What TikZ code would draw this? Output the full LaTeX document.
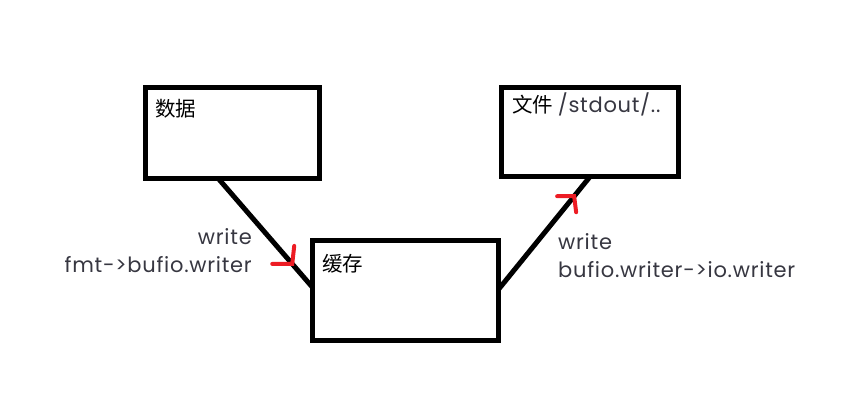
\documentclass[tikz,border=0pt]{standalone}
\usepackage{fontspec}
\setsansfont{Poppins}
\newfontfamily\notefont{Poppins}[LetterSpace=3.5]
\newfontfamily\cjk{Noto Sans CJK SC}
\usetikzlibrary{positioning}
\definecolor{paintred}{RGB}{237,28,36}
\definecolor{inkgray}{RGB}{55,55,65}

\begin{document}
\begin{tikzpicture}[
  x=1pt, y=-1pt,
  box/.style 2 args={draw, line width=5pt, inner sep=0pt, outer sep=0pt,
    minimum width=#1, minimum height=#2},
  boxtext/.style={anchor=base west, inner sep=0pt,
    font=\cjk\fontsize{20.5}{20.5}\selectfont},
  note/.style={inner sep=0pt, text=inkgray,
    font=\notefont\fontsize{21}{28.5}\selectfont},
  link/.style={draw, line width=5pt},
  tick/.style={draw=paintred, line width=4pt, line cap=round}
]
  \useasboundingbox (0,0) rectangle (851,406);

  \node[box={174pt}{90.5pt}] (data) at (232.6,132.8) {};
  \node[box={176.5pt}{89pt}] (file) at (589.75,132.5) {};
  \node[box={186pt}{100pt}] (buf) at (405,290) {};

  \node[boxtext] (datatxt) at (155,117) {数据};
  \node[boxtext] (filetxt) at (512,113)
    {文件 {\notefont\fontsize{21}{21}\selectfont\color{inkgray}/stdout/..}};
  \node[boxtext] (buftxt) at (322,271) {缓存};

  \draw[link] (data.-108) -- coordinate[pos=0.79] (tip1) (buf.178);
  \draw[link] (buf.east) -- coordinate[pos=0.83] (tip2) (file.south);

  % hand-drawn arrow marks
  \draw[tick] ([xshift=-20pt]tip1) -- (tip1) -- ([shift={(2,-18)}]tip1);
  \draw[tick] ([xshift=-17pt]tip2) -- (tip2) -- ([shift={(2,16)}]tip2);

  \node[note, anchor=north east, align=right] (lblin) at (252,228)
    {write\\fmt->bufio.writer};
  \node[note, anchor=north west, align=left] (lblout) at (558,233)
    {write\\bufio.writer->io.writer};
\end{tikzpicture}
\end{document}
